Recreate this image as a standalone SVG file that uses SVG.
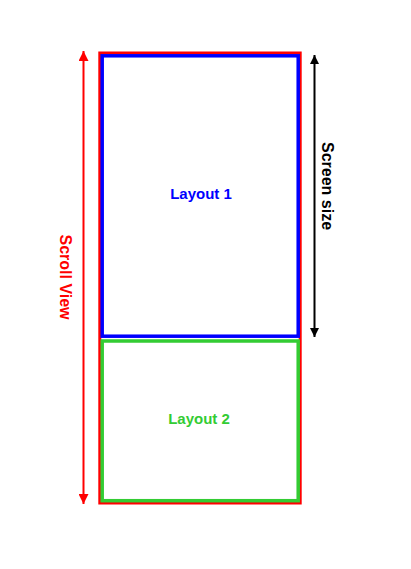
<svg xmlns="http://www.w3.org/2000/svg" width="411" height="569" viewBox="0 0 411 569">
<style>
.lbl{font-family:"Liberation Sans",Arial,sans-serif;font-weight:bold;text-anchor:middle}
</style>
<defs>
<marker id="ar" viewBox="0 0 10 10" refX="10" refY="5" markerWidth="10" markerHeight="10" markerUnits="userSpaceOnUse" orient="auto-start-reverse"><path d="M0,0 L10,5 L0,10 Z" fill="#ff0000"/></marker>
<marker id="ab" viewBox="0 0 10 10" refX="10" refY="5" markerWidth="9" markerHeight="9" markerUnits="userSpaceOnUse" orient="auto-start-reverse"><path d="M0,0 L10,5 L0,10 Z" fill="#000"/></marker>
</defs>
<rect width="411" height="569" fill="#fff"/>
<g id="scrollview">
<rect x="99.8" y="53" width="200.4" height="450" fill="none" stroke="#ff0000" stroke-width="3"/>
</g>
<g id="layout1">
<rect x="102.2" y="55.8" width="196" height="280.4" fill="none" stroke="#0000ff" stroke-width="3.5"/>
<text class="lbl" x="201" y="199" font-size="15" fill="#0000ff">Layout 1</text>
</g>
<g id="layout2">
<rect x="102.2" y="341" width="196" height="159.7" fill="none" stroke="#33cc33" stroke-width="3.5"/>
<text class="lbl" x="199" y="424" font-size="15" fill="#33cc33">Layout 2</text>
</g>
<g id="connectors">
<line x1="83.5" y1="51" x2="83.5" y2="504" stroke="#ff0000" stroke-width="2" marker-start="url(#ar)" marker-end="url(#ar)"/>
<line x1="314.5" y1="55" x2="314.5" y2="337" stroke="#000" stroke-width="2" marker-start="url(#ab)" marker-end="url(#ab)"/>
</g>
<g id="labels">
<text class="lbl" transform="translate(60,277) rotate(90)" font-size="16" fill="#ff0000">Scroll View</text>
<text class="lbl" transform="translate(322,186) rotate(90)" font-size="16" fill="#000">Screen size</text>
</g>
</svg>
